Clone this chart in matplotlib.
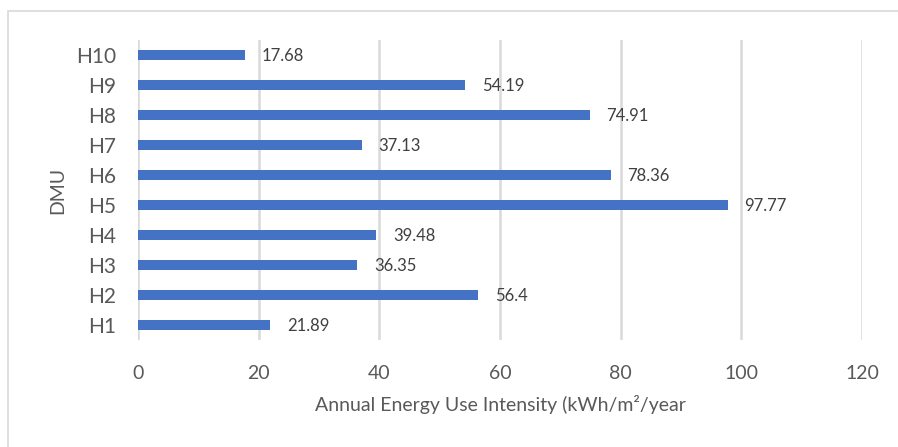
import matplotlib.pyplot as plt
from matplotlib.patches import Rectangle

plt.rcParams['font.family'] = ['Lato', 'DejaVu Sans']

dmus = ["H1", "H2", "H3", "H4", "H5", "H6", "H7", "H8", "H9", "H10"]
eui = [21.89, 56.4, 36.35, 39.48, 97.77, 78.36, 37.13, 74.91, 54.19, 17.68]
eui_labels = ["21.89", "56.4", "36.35", "39.48", "97.77", "78.36", "37.13", "74.91", "54.19", "17.68"]
x_ticks = [0, 20, 40, 60, 80, 100, 120]

text_color = "#595959"
bar_color = "#4472C4"
grid_color = "#D9D9D9"

fig = plt.figure(figsize=(8.98, 4.47), dpi=100)
ax = fig.add_axes([138 / 898, 1 - 340 / 447, (862 - 138) / 898, 300 / 447])

# chart border like the Excel chart area
fig.patches.append(Rectangle((8 / 898, -0.05), 1.1, 1 - 11 / 447 + 0.05,
                             transform=fig.transFigure, fill=False,
                             edgecolor="#D9D9D9", linewidth=1.2))

ypos = list(range(len(dmus)))
ax.barh(ypos, eui, height=0.35, color=bar_color, zorder=3)

for y, v, lab in zip(ypos, eui, eui_labels):
    ax.annotate(lab, (v, y), xytext=(12, -1), textcoords="offset points",
                va="center", ha="left", fontsize=12, color="#404040")

ax.set_xlim(0, 120)
ax.set_ylim(-0.5, len(dmus) - 0.5)
ax.set_xticks(x_ticks)
ax.set_yticks(ypos)
ax.set_yticklabels(dmus)
ax.tick_params(axis="x", length=0, pad=18, labelsize=14, labelcolor=text_color)
ax.tick_params(axis="y", length=0, pad=16, labelsize=15, labelcolor=text_color)

ax.grid(axis="x", color=grid_color, linewidth=1.8, zorder=0)
for s in ax.spines.values():
    s.set_visible(False)

ax.set_xlabel("Annual Energy Use Intensity (kWh/m²/year", fontsize=14,
              color=text_color, labelpad=9)
ax.set_ylabel("DMU", fontsize=14, color=text_color, labelpad=7)

fig.savefig("out.png", dpi=100)
